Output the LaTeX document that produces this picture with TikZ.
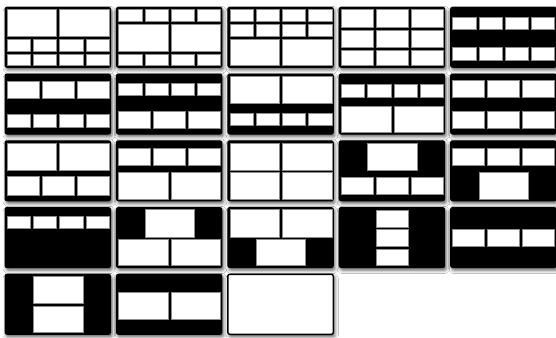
\documentclass[tikz,border=0pt]{standalone}
\usetikzlibrary{shadows.blur}
\tikzset{
  tileframe/.style={fill=black, draw=black, line width=1pt, rounded corners=2pt,
    blur shadow={shadow xshift=1.5pt, shadow yshift=-2.5pt, shadow blur radius=3.5pt, shadow opacity=65}},
  whiteframe/.style={tileframe, fill=white, line width=1.4pt},
  cellfill/.style={fill=white, draw=black!45, line width=0.3pt}
}
% row of n equal cells between y1 and y2
\newcommand\cellrow[3]{%
  \pgfmathsetmacro\cw{(102-(#1-1)*3)/#1}%
  \foreach \k in {1,...,#1}{%
    \pgfmathsetmacro\xa{2+(\k-1)*(\cw+3)}%
    \pgfmathsetmacro\xb{\xa+\cw}%
    \filldraw[cellfill] (\xa,#2) rectangle (\xb,#3);
  }}
% single centred cell of half width
\newcommand\centercell[2]{\filldraw[cellfill] (28.25,#1) rectangle (77.75,#2);}
% single centred cell of third width
\newcommand\narrowcell[2]{\filldraw[cellfill] (37,#1) rectangle (69,#2);}
% tile at column c (0..4), row r (0..4)
\newcommand\tile[3]{%
  \begin{scope}[shift={({5+111.4*#1},{7.3+66.75*#2})}]
    \filldraw[tileframe] (0,0) rectangle (105.5,60);
    #3
  \end{scope}}
\begin{document}
\begin{tikzpicture}[x=1pt,y=-1pt]
\useasboundingbox[fill=white] (0,0) rectangle (556,337);
% row 1
\tile{0}{0}{\cellrow{2}{2}{28.7}\cellrow{4}{32}{44.3}\cellrow{4}{47}{58}}
\tile{1}{0}{\cellrow{4}{2}{14}\cellrow{2}{17}{44}\cellrow{4}{47}{58}}
\tile{2}{0}{\cellrow{4}{2}{13.7}\cellrow{4}{16.5}{28.5}\cellrow{2}{31.7}{58}}
\tile{3}{0}{\cellrow{3}{2}{19.5}\cellrow{3}{22.5}{40}\cellrow{3}{43}{58}}
\tile{4}{0}{\cellrow{4}{9.7}{22.3}\cellrow{4}{40.3}{53}}
% row 2
\tile{0}{1}{\cellrow{3}{7}{24.3}\cellrow{4}{40.3}{52.7}}
\tile{1}{1}{\cellrow{4}{8.7}{21}\cellrow{3}{36.7}{54.3}}
\tile{2}{1}{\cellrow{2}{2}{29.3}\cellrow{4}{38.7}{51}}
\tile{3}{1}{\cellrow{4}{10}{22.7}\cellrow{2}{32}{58}}
\tile{4}{1}{\cellrow{3}{6}{23.3}\cellrow{3}{37}{54.3}}
% row 3
\tile{0}{2}{\cellrow{2}{2}{29.7}\cellrow{3}{35.7}{54}}
\tile{1}{2}{\cellrow{3}{7.3}{24.7}\cellrow{2}{31.3}{58}}
\tile{2}{2}{\cellrow{2}{2}{29.5}\cellrow{2}{31.8}{58}}
\tile{3}{2}{\centercell{2}{29}\cellrow{3}{36.3}{53.3}}
\tile{4}{2}{\cellrow{3}{7.3}{24.7}\centercell{31.7}{58}}
% row 4
\tile{0}{3}{\cellrow{4}{8.7}{21}}
\tile{1}{3}{\centercell{2}{29.3}\cellrow{2}{31.3}{58}}
\tile{2}{3}{\cellrow{2}{2}{29.3}\centercell{31.3}{58}}
\tile{3}{3}{\narrowcell{2.7}{19.3}\narrowcell{22}{38.7}\narrowcell{42}{58}}
\tile{4}{3}{\cellrow{3}{22}{38.7}}
% row 5
\tile{0}{4}{\centercell{2}{29.3}\centercell{32}{58}}
\tile{1}{4}{\cellrow{2}{17.7}{45}}
\begin{scope}[shift={({5+111.4*2},{7.3+66.75*4})}]
  \filldraw[whiteframe] (0,0) rectangle (105.5,60);
\end{scope}
\end{tikzpicture}
\end{document}
